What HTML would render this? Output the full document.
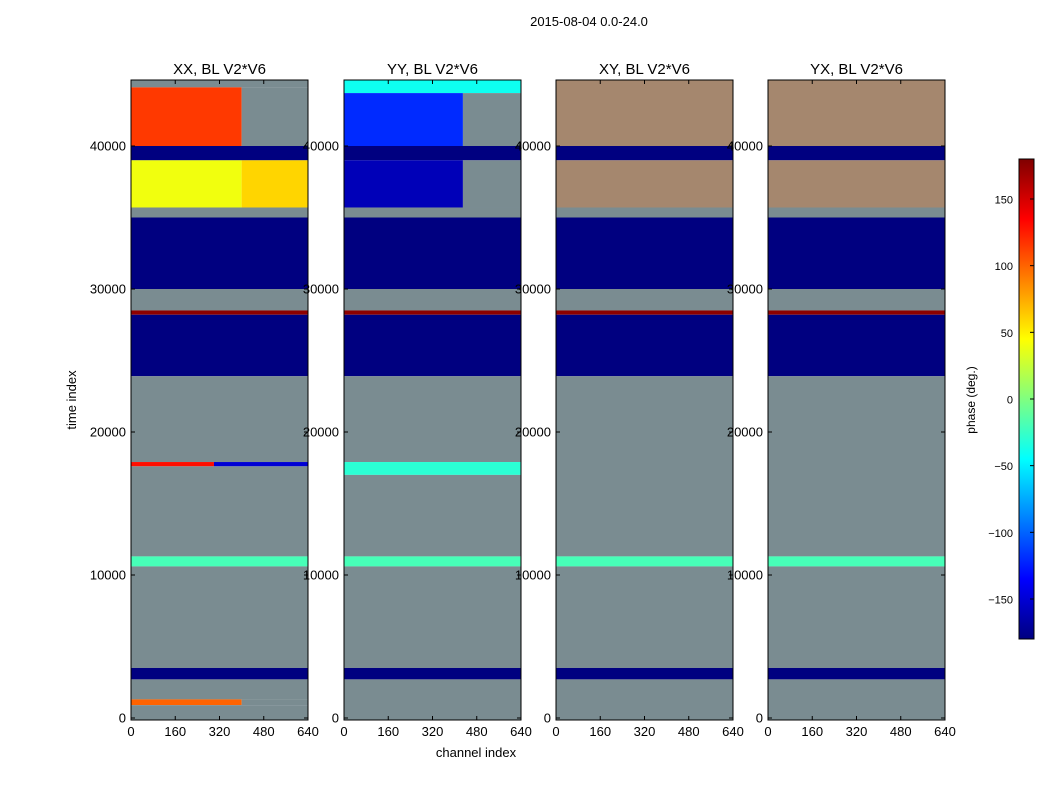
<!DOCTYPE html>
<html><head><meta charset="utf-8"><style>
body{margin:0;background:#fff;}
svg text{font-family:"Liberation Sans",sans-serif;}
</style></head><body>
<svg id="fig" width="1050" height="800" viewBox="0 0 1050 800" xmlns="http://www.w3.org/2000/svg">
<rect width="1050" height="800" fill="#fff"/>
<text x="589" y="26" font-size="13" text-anchor="middle">2015-08-04 0.0-24.0</text>
<text transform="translate(76,400) rotate(-90)" font-size="13" text-anchor="middle">time index</text>
<text x="476" y="757" font-size="13" text-anchor="middle">channel index</text>
<g id="panels"></g>
<g id="cbar"></g>
</svg>
<script>
// data
const panelTitles = ["XX, BL V2*V6","YY, BL V2*V6","XY, BL V2*V6","YX, BL V2*V6"];
const xTicks = [0,160,320,480,640];
const yTicks = [0,10000,20000,30000,40000];
const cbarTicks = [-150,-100,-50,0,50,100,150];
// bands: [tStart, tEnd, leftPhase, rightPhase, splitChannel]; null = noisy, 'w' = warm noisy
const bandsXX = [[44700,44100,null,null,640],[44100,40000,115,null,400],[40000,39000,-180,-180,640],[39000,35700,40,60,400],[35700,35000,null,null,640],[35000,30000,-180,-180,640],[30000,28500,null,null,640],[28500,28200,175,175,640],[28200,23900,-180,-180,640],[23900,17900,null,null,640],[17900,17600,130,-150,300],[17600,11300,null,null,640],[11300,10600,-20,-20,640],[10600,3500,null,null,640],[3500,2700,-180,-180,640],[2700,1300,null,null,640],[1300,900,100,null,400],[900,-140,null,null,640]];
const bandsYY = [[44700,43700,-40,-40,640],[43700,40000,-120,null,430],[40000,39000,-180,-180,640],[39000,35700,-160,null,430],[35700,35000,null,null,640],[35000,30000,-180,-180,640],[30000,28500,null,null,640],[28500,28200,175,175,640],[28200,23900,-180,-180,640],[23900,17900,null,null,640],[17900,17000,-30,-30,640],[17000,11300,null,null,640],[11300,10600,-20,-20,640],[10600,3500,null,null,640],[3500,2700,-180,-180,640],[2700,-140,null,null,640]];
const bandsXY = [[44700,40000,'w','w',640],[40000,39000,-180,-180,640],[39000,35700,'w','w',640],[35700,35000,null,null,640],[35000,30000,-180,-180,640],[30000,28500,null,null,640],[28500,28200,175,175,640],[28200,23900,-180,-180,640],[23900,11300,null,null,640],[11300,10600,-20,-20,640],[10600,3500,null,null,640],[3500,2700,-180,-180,640],[2700,-140,null,null,640]];
const bandsYX = [[44700,40000,'w','w',640],[40000,39000,-180,-180,640],[39000,35700,'w','w',640],[35700,35000,null,null,640],[35000,30000,-180,-180,640],[30000,28500,null,null,640],[28500,28200,175,175,640],[28200,23900,-180,-180,640],[23900,11300,null,null,640],[11300,10600,-20,-20,640],[10600,3500,null,null,640],[3500,2700,-180,-180,640],[2700,-140,null,null,640]];
const allBands = [bandsXX,bandsYY,bandsXY,bandsYX];

const NS="http://www.w3.org/2000/svg";
const lefts=[131,344,556,768], W=177, TOP=80, BOT=720;
const yS=t=>718-t*0.0143;
function jet(p){const x=(p+180)/360;const c=v=>Math.round(255*Math.max(0,Math.min(1,1.5-Math.abs(v))));return `rgb(${c(4*x-3)},${c(4*x-2)},${c(4*x-1)})`;}
const NOISE="rgb(122,140,145)", WARM="rgb(165,135,110)";
function col(p){return p===null?NOISE:(p==='w'?WARM:jet(p));}
function mk(tag,attrs,parent){const e=document.createElementNS(NS,tag);for(const k in attrs)e.setAttribute(k,attrs[k]);parent.appendChild(e);return e;}
const panels=document.getElementById('panels');
allBands.forEach((bands,i)=>{
  const L=lefts[i];const xS=c=>L+c/640*W;
  const g=mk('g',{},panels);
  
  
  bands.forEach(b=>{
    const y0=Math.max(TOP,yS(b[0])), y1=Math.min(BOT,yS(b[1]));
    const r1=mk('rect',{x:xS(0),y:y0,width:xS(b[4])-xS(0),height:y1-y0,fill:col(b[2])},g);
    
    
    if(b[4]<640){const r2=mk('rect',{x:xS(b[4]),y:y0,width:xS(640)-xS(b[4]),height:y1-y0,fill:col(b[3])},g);
      
      }
  });
  mk('rect',{x:L,y:TOP,width:W,height:BOT-TOP,fill:'none',stroke:'#000','stroke-width':1},g);
  const t=mk('text',{x:L+W/2,y:74,'font-size':15,'text-anchor':'middle'},g);t.textContent=panelTitles[i];
  
  
  xTicks.forEach(v=>{const x=xS(v);mk('line',{x1:x,x2:x,y1:BOT,y2:BOT-4,stroke:'#000'},g);mk('line',{x1:x,x2:x,y1:TOP,y2:TOP+4,stroke:'#000'},g);
    const tx=mk('text',{x:x,y:736,'font-size':13,'text-anchor':'middle'},g);tx.textContent=v;
    
    });
  yTicks.forEach(v=>{const y=yS(v);mk('line',{x1:L,x2:L+4,y1:y,y2:y,stroke:'#000'},g);mk('line',{x1:L+W,x2:L+W-4,y1:y,y2:y,stroke:'#000'},g);
    const ty=mk('text',{x:L-5,y:y+4.5,'font-size':13,'text-anchor':'end'},g);ty.textContent=v;
    
    });
});
// colorbar
const cb=document.getElementById('cbar');
const cS=p=>399-p*(400/300);
const defs=mk('defs',{},cb);const gr=mk('linearGradient',{id:'jetg',x1:0,y1:1,x2:0,y2:0},defs);
for(let k=0;k<=16;k++){const p=-180+k*22.5;mk('stop',{offset:k/16,'stop-color':jet(p)},gr);}
const cr=mk('rect',{x:1019,y:cS(180),width:15,height:cS(-180)-cS(180),fill:'url(#jetg)',stroke:'#000'},cb);


cbarTicks.forEach(v=>{const y=cS(v);mk('line',{x1:1030,x2:1034,y1:y,y2:y,stroke:'#000'},cb);
  const t=mk('text',{x:1013,y:y+4.5,'font-size':11,'text-anchor':'end'},cb);t.textContent=v<0?'\u2212'+(-v):v;
  
  });
const cl=mk('text',{transform:'translate(975,400) rotate(-90)','font-size':12,'text-anchor':'middle'},cb);cl.textContent='phase (deg.)';


</script>
</body></html>
